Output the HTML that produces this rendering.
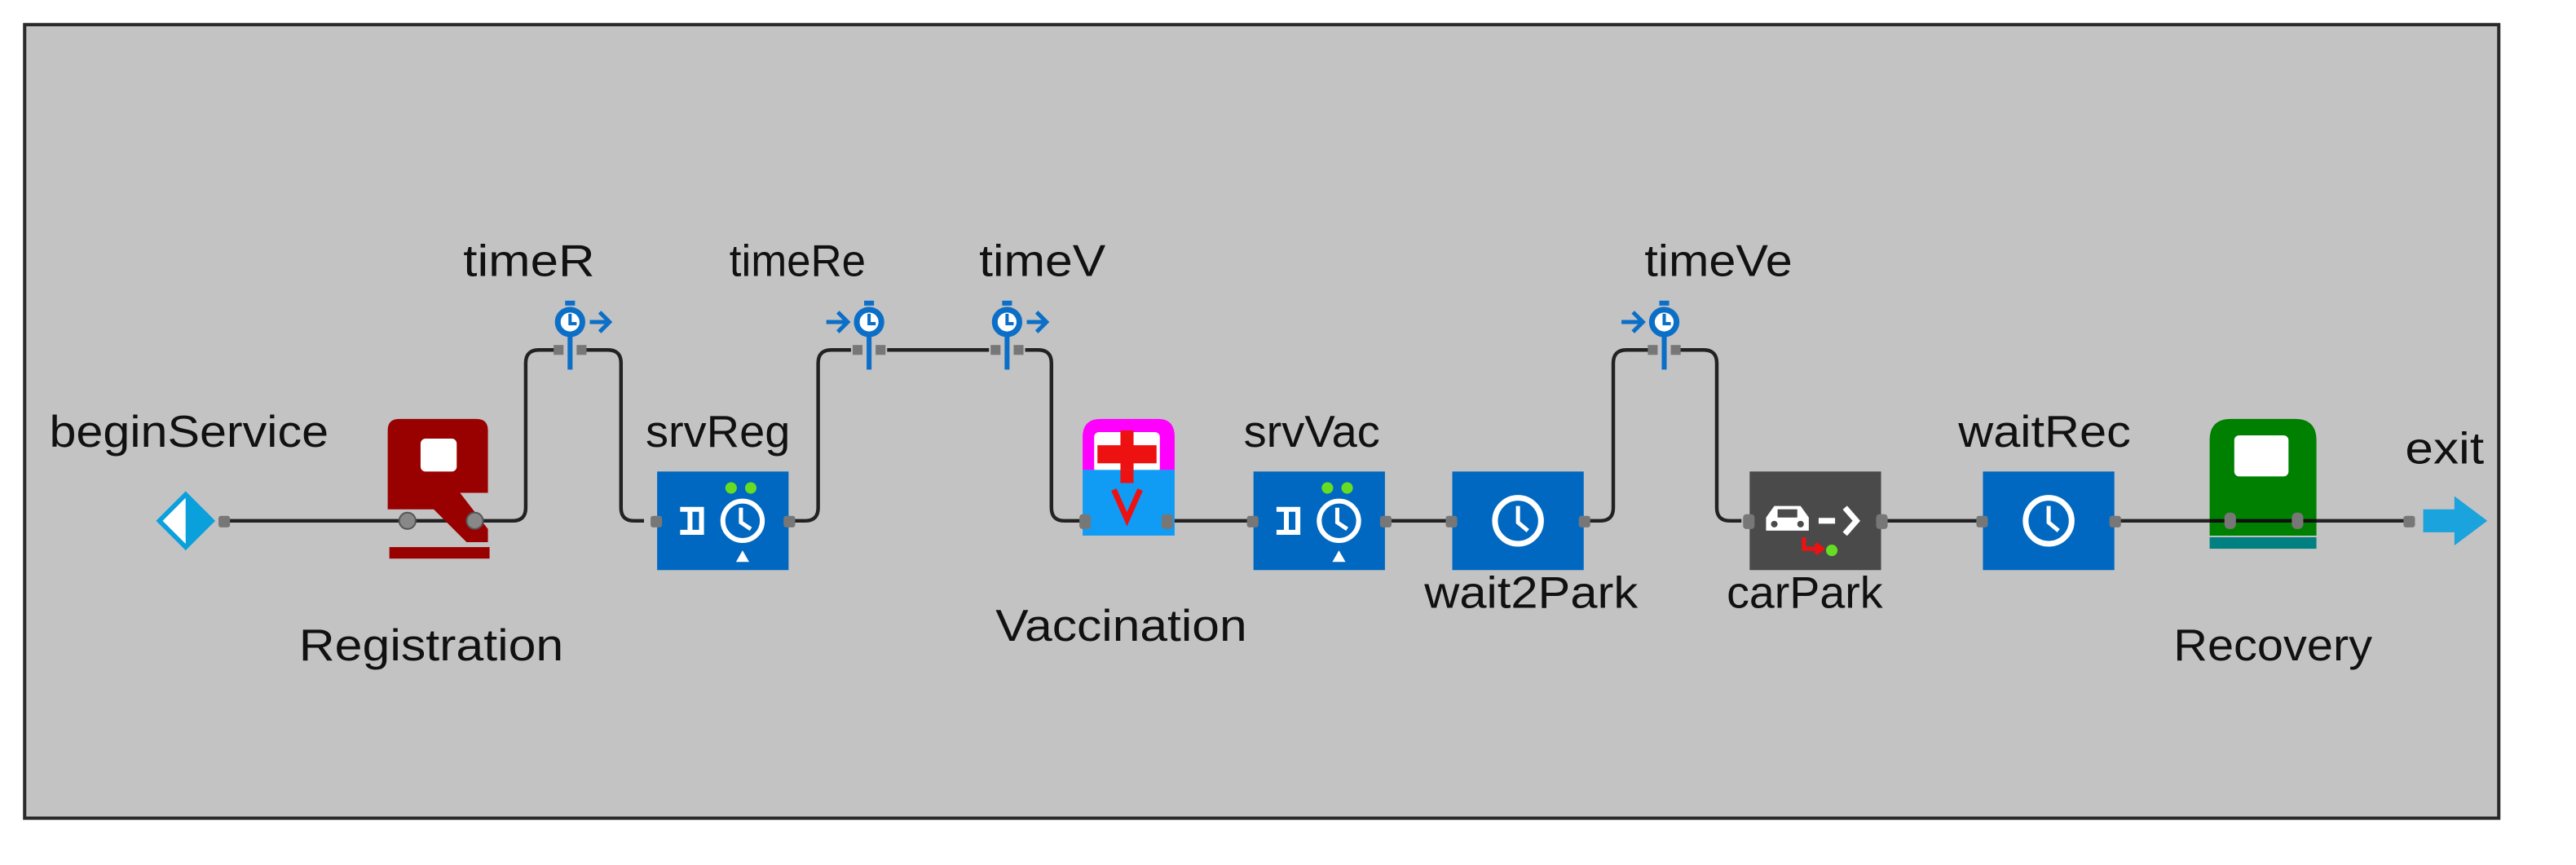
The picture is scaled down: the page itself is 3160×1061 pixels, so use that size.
<!DOCTYPE html>
<html><head><meta charset="utf-8"><style>
html,body{margin:0;padding:0;background:#fff;}
svg{display:block;}
text{font-family:"Liberation Sans",sans-serif;font-size:27px;fill:#111;}
</style></head><body>
<svg width="3160" height="1061" viewBox="0 0 1568 526.5" preserveAspectRatio="none" xmlns="http://www.w3.org/2000/svg">
<rect x="0" y="0" width="1568" height="526.5" fill="#fff"/>
<rect x="15" y="15" width="1506" height="483" fill="#c3c3c3" stroke="#2a2a2a" stroke-width="2"/>

<g fill="none" stroke="#222" stroke-width="2.2">
<path d="M136 317 H289"/>
<path d="M289 317 H312 Q320 317 320 309 V221 Q320 213 328 213 H340"/>
<path d="M354 213 H370 Q378 213 378 221 V309 Q378 317 386 317 H392"/>
<path d="M482 317 H490 Q498 317 498 309 V221 Q498 213 506 213 H518"/>
<path d="M540 213 H602"/>
<path d="M624 213 H632 Q640 213 640 221 V309 Q640 317 648 317 H660"/>
<path d="M710 317 H763"/>
<path d="M843 317 H884"/>
<path d="M964 317 H974 Q982 317 982 309 V221 Q982 213 990 213 H1006"/>
<path d="M1020 213 H1037 Q1045 213 1045 221 V309 Q1045 317 1053 317 H1060"/>
<path d="M1145 317 H1207"/>
<path d="M1287 317 H1466"/>
</g>

<polygon points="113,299 131,317 113,335 95,317" fill="#0aa0dc"/>
<polygon points="113,303 113,331 99,317" fill="#fff"/>
<rect x="133" y="314" width="7" height="7" rx="1.5" fill="#777"/>
<text x="30" y="272" textLength="170" lengthAdjust="spacingAndGlyphs">beginService</text>

<path d="M236 262 Q236 255 243 255 H290 Q297 255 297 262 V300 H280 L297 322 V330 H284 L264 310 H236 Z" fill="#990000"/>
<rect x="256" y="267" width="22" height="20" rx="3" fill="#fff"/>
<rect x="237" y="333" width="61" height="7" fill="#990000"/>
<circle cx="248" cy="317" r="5" fill="#888" stroke="#555"/>
<circle cx="289" cy="317" r="5" fill="#888" stroke="#555"/>
<text x="182" y="402" textLength="161" lengthAdjust="spacingAndGlyphs">Registration</text>

<g transform="translate(347,0)">
<rect x="-3" y="183" width="6" height="3" fill="#0b6fc8"/>
<circle cx="0" cy="196" r="7.5" fill="#fff" stroke="#0b6fc8" stroke-width="3.5"/>
<path d="M0 191 V197 H4" stroke="#0b6fc8" stroke-width="2" fill="none"/>
<path d="M0 204 V225" stroke="#0b6fc8" stroke-width="3"/>
<path d="M12 196 H22 M18 190 L24 196 L18 202" stroke="#0b6fc8" stroke-width="2.5" fill="none"/>
<rect x="-10" y="210" width="6" height="6" fill="#777"/><rect x="4" y="210" width="6" height="6" fill="#777"/>
</g>
<text x="282" y="168" textLength="80" lengthAdjust="spacingAndGlyphs">timeR</text>
<g transform="translate(529,0)">
<rect x="-3" y="183" width="6" height="3" fill="#0b6fc8"/>
<circle cx="0" cy="196" r="7.5" fill="#fff" stroke="#0b6fc8" stroke-width="3.5"/>
<path d="M0 191 V197 H4" stroke="#0b6fc8" stroke-width="2" fill="none"/>
<path d="M0 204 V225" stroke="#0b6fc8" stroke-width="3"/>
<path d="M-26 196 H-14 M-19 190 L-13 196 L-19 202" stroke="#0b6fc8" stroke-width="2.5" fill="none"/>
<rect x="-10" y="210" width="6" height="6" fill="#777"/><rect x="4" y="210" width="6" height="6" fill="#777"/>
</g>
<text x="444" y="168" textLength="83" lengthAdjust="spacingAndGlyphs">timeRe</text>
<g transform="translate(613,0)">
<rect x="-3" y="183" width="6" height="3" fill="#0b6fc8"/>
<circle cx="0" cy="196" r="7.5" fill="#fff" stroke="#0b6fc8" stroke-width="3.5"/>
<path d="M0 191 V197 H4" stroke="#0b6fc8" stroke-width="2" fill="none"/>
<path d="M0 204 V225" stroke="#0b6fc8" stroke-width="3"/>
<path d="M12 196 H22 M18 190 L24 196 L18 202" stroke="#0b6fc8" stroke-width="2.5" fill="none"/>
<rect x="-10" y="210" width="6" height="6" fill="#777"/><rect x="4" y="210" width="6" height="6" fill="#777"/>
</g>
<text x="596" y="168" textLength="77" lengthAdjust="spacingAndGlyphs">timeV</text>
<g transform="translate(1013,0)">
<rect x="-3" y="183" width="6" height="3" fill="#0b6fc8"/>
<circle cx="0" cy="196" r="7.5" fill="#fff" stroke="#0b6fc8" stroke-width="3.5"/>
<path d="M0 191 V197 H4" stroke="#0b6fc8" stroke-width="2" fill="none"/>
<path d="M0 204 V225" stroke="#0b6fc8" stroke-width="3"/>
<path d="M-26 196 H-14 M-19 190 L-13 196 L-19 202" stroke="#0b6fc8" stroke-width="2.5" fill="none"/>
<rect x="-10" y="210" width="6" height="6" fill="#777"/><rect x="4" y="210" width="6" height="6" fill="#777"/>
</g>
<text x="1001" y="168" textLength="90" lengthAdjust="spacingAndGlyphs">timeVe</text>

<g transform="translate(400,287)">
<rect width="80" height="60" fill="#0068c0"/>
<circle cx="45" cy="10" r="3.5" fill="#66dd22"/><circle cx="57" cy="10" r="3.5" fill="#66dd22"/>
<path d="M14 23 H27 V37 H14 M20 23 V37" stroke="#fff" stroke-width="3" fill="none"/>
<circle cx="52" cy="30" r="12" fill="none" stroke="#fff" stroke-width="3"/>
<path d="M51 22 V31 L57 35" stroke="#fff" stroke-width="2.5" fill="none"/>
<polygon points="52,48 56,55 48,55" fill="#fff"/>
<rect x="-4" y="27" width="7" height="7" rx="1.5" fill="#777"/><rect x="77" y="27" width="7" height="7" rx="1.5" fill="#777"/>
</g>
<text x="393" y="272" textLength="88" lengthAdjust="spacingAndGlyphs">srvReg</text>

<path d="M659 266 Q659 255 670 255 H705 Q715 255 715 266 V286 H659 Z" fill="#ff00ff"/>
<rect x="666" y="263" width="40" height="25" rx="3" fill="#fff"/>
<rect x="682" y="262" width="8" height="32" fill="#ee1111"/>
<rect x="668" y="271" width="36" height="11" fill="#ee1111"/>
<rect x="659" y="286" width="56" height="40" fill="#109bf5"/>
<rect x="682" y="286" width="8" height="8" fill="#ee1111"/>
<path d="M678 298 L686 316 L694 298" stroke="#ee1111" stroke-width="3.5" fill="none"/>
<rect x="657" y="313" width="7" height="9" rx="2" fill="#777"/><rect x="707" y="313" width="7" height="9" rx="2" fill="#777"/>
<text x="606" y="390" textLength="153" lengthAdjust="spacingAndGlyphs">Vaccination</text>

<g transform="translate(763,287)">
<rect width="80" height="60" fill="#0068c0"/>
<circle cx="45" cy="10" r="3.5" fill="#66dd22"/><circle cx="57" cy="10" r="3.5" fill="#66dd22"/>
<path d="M14 23 H27 V37 H14 M20 23 V37" stroke="#fff" stroke-width="3" fill="none"/>
<circle cx="52" cy="30" r="12" fill="none" stroke="#fff" stroke-width="3"/>
<path d="M51 22 V31 L57 35" stroke="#fff" stroke-width="2.5" fill="none"/>
<polygon points="52,48 56,55 48,55" fill="#fff"/>
<rect x="-4" y="27" width="7" height="7" rx="1.5" fill="#777"/><rect x="77" y="27" width="7" height="7" rx="1.5" fill="#777"/>
</g>
<text x="757" y="272" textLength="83" lengthAdjust="spacingAndGlyphs">srvVac</text>

<g transform="translate(884,287)">
<rect width="80" height="60" fill="#0068c0"/>
<circle cx="40" cy="30" r="14" fill="none" stroke="#fff" stroke-width="3.5"/>
<path d="M40 21 V31 L46 36" stroke="#fff" stroke-width="2.5" fill="none"/>
<rect x="-4" y="27" width="7" height="7" rx="1.5" fill="#777"/><rect x="77" y="27" width="7" height="7" rx="1.5" fill="#777"/>
</g>
<text x="867" y="370" textLength="130" lengthAdjust="spacingAndGlyphs">wait2Park</text>

<g transform="translate(1065,287)">
<rect width="80" height="60" fill="#4a4a4a"/>
<path d="M10 36 V28 L15 21 H31 L36 28 V36 Z" fill="#fff"/>
<rect x="17" y="23" width="12" height="5" fill="#4a4a4a"/>
<circle cx="15" cy="32" r="2" fill="#4a4a4a"/><circle cx="31" cy="32" r="2" fill="#4a4a4a"/>
<path d="M42 30 H52 M58 22 L65 30 L58 38" stroke="#fff" stroke-width="3.5" fill="none"/>
<path d="M33 40 V47 H43 M40 44 L44 47 L40 50" stroke="#ee1111" stroke-width="2.5" fill="none"/>
<circle cx="50" cy="48" r="3.5" fill="#66dd22"/>
<rect x="-4" y="26" width="7" height="9" rx="2" fill="#777"/><rect x="77" y="26" width="7" height="9" rx="2" fill="#777"/>
</g>
<text x="1051" y="370" textLength="95" lengthAdjust="spacingAndGlyphs">carPark</text>

<g transform="translate(1207,287)">
<rect width="80" height="60" fill="#0068c0"/>
<circle cx="40" cy="30" r="14" fill="none" stroke="#fff" stroke-width="3.5"/>
<path d="M40 21 V31 L46 36" stroke="#fff" stroke-width="2.5" fill="none"/>
<rect x="-4" y="27" width="7" height="7" rx="1.5" fill="#777"/><rect x="77" y="27" width="7" height="7" rx="1.5" fill="#777"/>
</g>
<text x="1192" y="272" textLength="105" lengthAdjust="spacingAndGlyphs">waitRec</text>

<path d="M1345 268 Q1345 255 1358 255 H1397 Q1410 255 1410 268 V326 H1345 Z" fill="#008000"/>
<rect x="1360" y="265" width="33" height="25" rx="3" fill="#fff"/>
<rect x="1345" y="327" width="65" height="7" fill="#008080"/>
<path d="M1345 317 H1410" stroke="#111" stroke-width="2.2"/>
<rect x="1354" y="312" width="7" height="10" rx="3" fill="#777"/><rect x="1395" y="312" width="7" height="10" rx="3" fill="#777"/>
<text x="1323" y="402" textLength="121" lengthAdjust="spacingAndGlyphs">Recovery</text>

<rect x="1463" y="314" width="7" height="7" rx="1.5" fill="#777"/>
<polygon points="1475,310 1494,310 1494,302 1514,317 1494,332 1494,324 1475,324" fill="#1aa3dc"/>
<text x="1464" y="282" textLength="48" lengthAdjust="spacingAndGlyphs">exit</text>
</svg>
</body></html>
